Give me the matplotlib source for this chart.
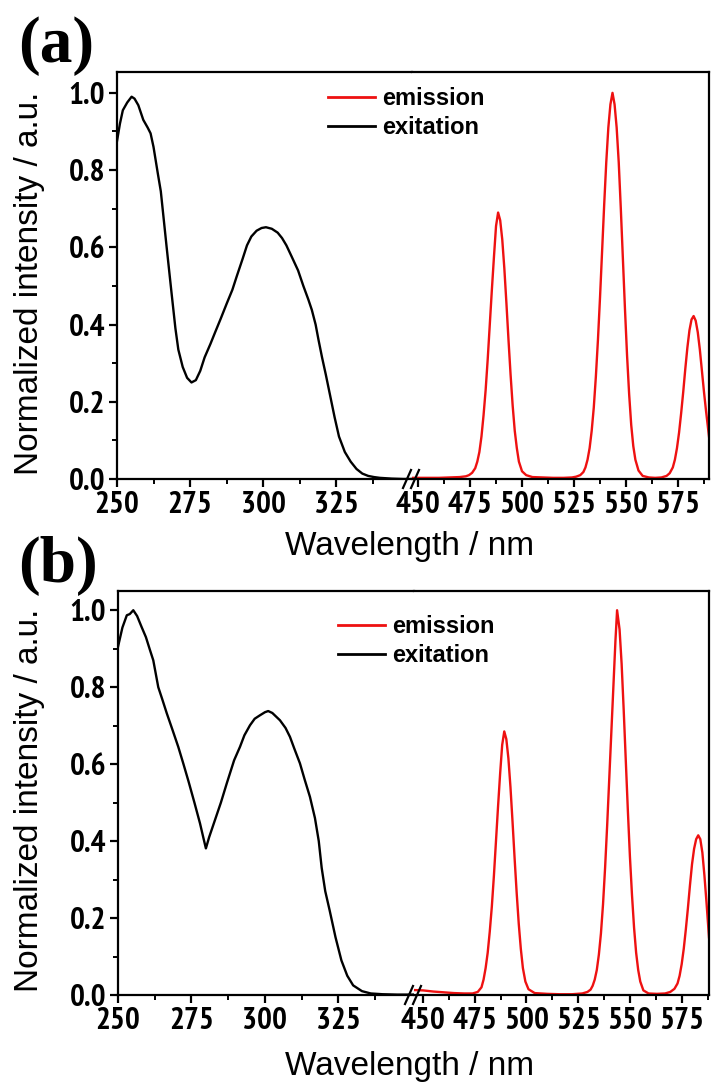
import matplotlib
matplotlib.use('Agg')
import matplotlib.pyplot as plt
from matplotlib import font_manager as fm
from matplotlib.lines import Line2D

# ---------- data ----------
# panel (a) excitation
wl_exc_a = [250, 251, 252, 253.5, 255, 256, 257.3, 259, 260.5, 261.5, 262.5, 264, 265, 267,
            268.7, 270, 271, 272.5, 274, 275.5, 277, 278.5, 280, 282, 283.6, 285.5, 287.6,
            289.5, 291, 293, 294.5, 296, 297.8, 299.5, 301, 303, 305, 306.5, 308, 309.8, 312,
            313.8, 315.5, 316.7, 318, 319, 320.2, 321.5, 323, 324.5, 326, 328, 330, 332, 334,
            336, 338, 340, 344, 348, 352]
exc_a = [0.875, 0.92, 0.955, 0.975, 0.99, 0.985, 0.968, 0.93, 0.91, 0.895, 0.86, 0.79, 0.745,
         0.60, 0.48, 0.39, 0.335, 0.29, 0.262, 0.25, 0.256, 0.28, 0.315, 0.35, 0.38, 0.415,
         0.455, 0.49, 0.525, 0.57, 0.605, 0.628, 0.643, 0.65, 0.652, 0.648, 0.638, 0.624,
         0.605, 0.576, 0.54, 0.50, 0.465, 0.438, 0.40, 0.36, 0.315, 0.27, 0.215, 0.16, 0.11,
         0.07, 0.045, 0.026, 0.014, 0.008, 0.005, 0.003, 0.001, 0.0, 0.0]

# panel (a) emission
wl_em_a = [447, 455, 460, 465, 470, 473, 474.5, 476,
           477.5, 478.5, 479.5, 480.5, 481.5, 482.5, 483.5, 484.5, 485.5, 486.5,
           487.5, 488.5, 489.5, 490.5, 491.5, 492.5, 493.5, 494.5, 495.5, 496.5,
           497.5, 498.5, 500, 502, 505, 510, 515, 520, 524, 526, 528,
           529.5, 530.5, 531.5, 532.5, 533.5, 534.5, 535.5, 536.5, 537.5, 538.5,
           539.5, 540.5, 541.5, 542.5, 543.5, 544.5, 545.5, 546.5, 547.5, 548.5,
           549.5, 550.5, 551.5, 552.5, 553.5, 554.5, 556, 558, 561, 564, 567, 569.5, 571, 572.5,
           573.5, 574.5, 575.5, 576.5, 577.5, 578.5, 579.5, 580.5, 581.5, 582.5,
           583.5, 584.5, 585.5, 586.5, 587.5, 588.5, 589.9]
em_a = [0.003, 0.003, 0.003, 0.004, 0.005, 0.007, 0.01, 0.016,
        0.028, 0.045, 0.07, 0.11, 0.165, 0.23, 0.31, 0.40, 0.49, 0.575,
        0.655, 0.69, 0.67, 0.62, 0.545, 0.455, 0.36, 0.27, 0.19, 0.125,
        0.08, 0.045, 0.02, 0.01, 0.005, 0.004, 0.003, 0.003, 0.004, 0.006, 0.01,
        0.018, 0.03, 0.05, 0.08, 0.125, 0.185, 0.265, 0.36, 0.47, 0.59,
        0.71, 0.82, 0.91, 0.97, 1.0, 0.97, 0.91, 0.82, 0.7, 0.57,
        0.44, 0.32, 0.22, 0.14, 0.085, 0.05, 0.022, 0.008, 0.004, 0.003, 0.004, 0.008, 0.015, 0.03,
        0.05, 0.08, 0.12, 0.17, 0.225, 0.285, 0.34, 0.385, 0.413, 0.422,
        0.41, 0.38, 0.335, 0.28, 0.225, 0.175, 0.11]

# panel (b) excitation
wl_exc_b = [250, 251.5, 253, 254, 255.2, 256.5, 258, 259.5, 260.9, 262, 263.7, 265, 266.6,
            268.5, 270.5, 272.2, 274, 276, 277.9, 279, 279.9, 281, 283, 285, 287, 289.5,
            291.5, 293, 294.9, 296.5, 298.3, 300, 301.1, 302.5, 305.1, 307, 308.5, 310,
            311.9, 313.5, 315.3, 317, 318.3, 319.3, 320.5, 322, 324, 326, 328, 330, 333,
            336, 340, 345, 352]
exc_b = [0.905, 0.955, 0.987, 0.99, 1.0, 0.985, 0.957, 0.93, 0.896, 0.87, 0.80, 0.77, 0.732,
         0.69, 0.645, 0.602, 0.555, 0.5, 0.446, 0.41, 0.381, 0.41, 0.455, 0.5, 0.55, 0.61,
         0.645, 0.675, 0.701, 0.718, 0.727, 0.735, 0.738, 0.733, 0.714, 0.694, 0.671, 0.64,
         0.602, 0.56, 0.515, 0.46, 0.4, 0.33, 0.27, 0.22, 0.15, 0.09, 0.05, 0.025, 0.01,
         0.004, 0.002, 0.001, 0.001]

# panel (b) emission
wl_em_b = [445, 450, 455, 460, 465, 470, 474, 476.5,
           478.3, 479.3, 480.3, 481.3, 482.3, 483.3, 484.3, 485.3, 486.3, 487.3,
           488.3, 489.3, 490.3, 491.3, 492.3, 493.3, 494.3, 495.3, 496.3, 497.3,
           498.3, 499.5, 501, 504, 510, 516, 522, 527, 529.5, 531,
           532, 533, 534, 535, 536, 537, 538, 539, 540, 541,
           542, 543, 543.8, 545, 546, 547, 548, 549, 550, 551,
           552, 553, 554, 555, 556.5, 559, 563, 567, 569.5, 571.5,
           573, 574, 575, 576, 577, 578, 579, 580, 581, 582,
           583, 584, 585, 586, 587, 588.2]
em_b = [0.013, 0.012, 0.009, 0.007, 0.005, 0.004, 0.004, 0.008,
        0.02, 0.04, 0.07, 0.11, 0.165, 0.23, 0.31, 0.40, 0.49, 0.575,
        0.65, 0.685, 0.665, 0.615, 0.54, 0.45, 0.355, 0.265, 0.185, 0.12,
        0.07, 0.035, 0.015, 0.005, 0.003, 0.002, 0.002, 0.004, 0.008, 0.014,
        0.024, 0.04, 0.065, 0.105, 0.16, 0.235, 0.33, 0.44, 0.56, 0.68,
        0.8, 0.92, 1.0, 0.95, 0.86, 0.74, 0.61, 0.48, 0.36, 0.26,
        0.175, 0.11, 0.065, 0.035, 0.012, 0.004, 0.003, 0.004, 0.008, 0.016,
        0.03, 0.05, 0.08, 0.12, 0.17, 0.225, 0.285, 0.34, 0.38, 0.405,
        0.415, 0.405, 0.37, 0.31, 0.24, 0.15]

RED = '#ee1111'
W, H = 712, 1088


def pick_tick_font():
    # narrow bold numerals like the original; fall back to plain bold sans
    for f in fm.fontManager.ttflist:
        if 'Narrow' in f.name and f.weight in ('bold', 700):
            return fm.FontProperties(fname=f.fname, size=22.5)
    for f in fm.fontManager.ttflist:
        if f.name == 'DejaVu Sans' and f.stretch == 'condensed' and f.weight in ('bold', 700):
            return fm.FontProperties(fname=f.fname, size=20)
    return fm.FontProperties(family='Liberation Sans', weight='bold', size=19.5)


TICKPROP = pick_tick_font()

plt.rcParams['font.family'] = ['Liberation Sans', 'DejaVu Sans']
plt.rcParams['axes.linewidth'] = 1.6

fig = plt.figure(figsize=(W / 100, H / 100), dpi=100)

# pixel layout of each panel: left spine, break, right spine, top, bottom
panels = [
    dict(left=117, brk=412, right=709, top=72, bottom=479,
         xl=(250, 351.0), xr=(447.1, 589.9), ytop=1.054,
         wx=wl_exc_a, wy=exc_a, mx=wl_em_a, my=em_a, label='(a)', lab_y=46,
         leg=(327, 95), xlab_y=546, ylab_y=283),
    dict(left=118, brk=414, right=709, top=591, bottom=995,
         xl=(250, 350.7), xr=(445.7, 588.2), ytop=1.05,
         wx=wl_exc_b, wy=exc_b, mx=wl_em_b, my=em_b, label='(b)', lab_y=566,
         leg=(337, 623), xlab_y=1066, ylab_y=800),
]


def style_ticks(ax):
    for lab in ax.get_xticklabels() + ax.get_yticklabels():
        lab.set_fontproperties(TICKPROP)


for p in panels:
    b = 1 - p['bottom'] / H
    h = (p['bottom'] - p['top']) / H
    axl = fig.add_axes([p['left'] / W, b, (p['brk'] - p['left']) / W, h])
    axr = fig.add_axes([p['brk'] / W, b, (p['right'] - p['brk']) / W, h])

    axl.plot(p['wx'], p['wy'], color='black', lw=1.7)
    axr.plot(p['mx'], p['my'], color=RED, lw=1.7)

    for ax in (axl, axr):
        ax.set_ylim(0, p['ytop'])
        ax.tick_params(which='major', direction='out', length=6, width=1.6, pad=2.5)
        ax.tick_params(which='minor', direction='out', length=3.5, width=1.4)
        ax.tick_params(top=False, right=False)

    axl.set_xlim(*p['xl'])
    axl.set_xticks([250, 275, 300, 325])
    axl.set_xticks([262.5, 287.5, 312.5, 337.5], minor=True)
    axl.set_yticks([0, 0.2, 0.4, 0.6, 0.8, 1.0])
    axl.set_yticklabels(['0.0', '0.2', '0.4', '0.6', '0.8', '1.0'])
    axl.set_yticks([0.1, 0.3, 0.5, 0.7, 0.9], minor=True)
    axl.spines['right'].set_visible(False)

    axr.set_xlim(*p['xr'])
    axr.set_xticks([450, 475, 500, 525, 550, 575])
    axr.set_xticks([462.5, 487.5, 512.5, 537.5, 562.5, 587.5], minor=True)
    axr.set_yticks([])
    axr.spines['left'].set_visible(False)

    style_ticks(axl)
    style_ticks(axr)

    # break marks "//" on the bottom axis
    yb = 1 - p['bottom'] / H
    for dx in (-5, 3):
        x0 = (p['brk'] + dx) / W
        fig.add_artist(Line2D([x0 - 4 / W, x0 + 4 / W], [yb - 9 / H, yb + 9 / H],
                              color='black', lw=1.6, transform=fig.transFigure))

    # legend
    lx, ly = p['leg']
    handles = [Line2D([], [], color=RED, lw=2), Line2D([], [], color='black', lw=2)]
    fig.legend(handles, ['emission', 'exitation'], loc='upper left',
               bbox_to_anchor=(lx / W - 0.012, 1 - (ly - 17) / H), frameon=False,
               prop=dict(family='Liberation Sans', weight='bold', size=17),
               handlelength=2.0, handletextpad=0.3, labelspacing=0.25, borderaxespad=0)

    fig.text((p['left'] + p['right']) / 2 / W - 0.005, 1 - p['xlab_y'] / H, 'Wavelength / nm',
             ha='center', va='center', fontsize=24)
    fig.text(30 / W, 1 - p['ylab_y'] / H, 'Normalized intensity / a.u.',
             ha='center', va='center', rotation=90, fontsize=24)
    fig.text(18 / W, 1 - p['lab_y'] / H, p['label'], ha='left', va='center',
             fontsize=47, fontweight='bold', family=['Liberation Serif', 'DejaVu Serif'])

fig.savefig('out.png', dpi=100)
